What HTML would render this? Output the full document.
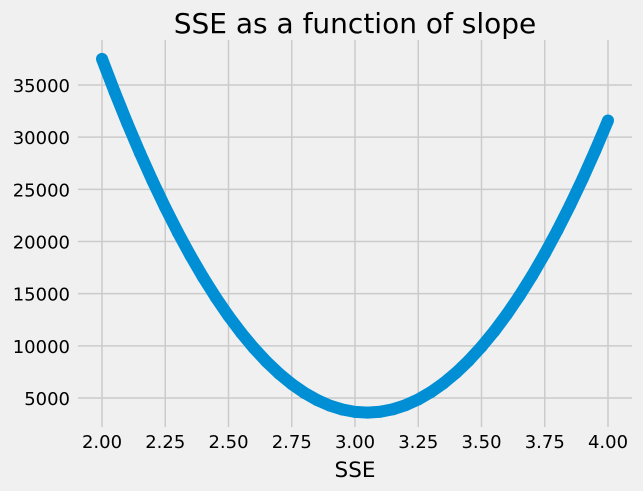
<!DOCTYPE html>
<html><head><meta charset="utf-8"><style>
html,body{margin:0;padding:0;background:#f0f0f0;}
svg{display:block;font-family:"DejaVu Sans","Liberation Sans",sans-serif;}
</style></head><body>
<svg id="chart" width="643" height="491" viewBox="0 0 643 491">
<rect x="0" y="0" width="643" height="491" fill="#f0f0f0"/>
<g id="grid"></g><g id="series"></g><g id="ticks"></g>
<text x="355" y="33" text-anchor="middle" font-size="28" fill="#000">SSE as a function of slope</text>
<text x="355" y="477" text-anchor="middle" font-size="21.5" fill="#000">SSE</text>
</svg>
<script>
const slopes=[2.00,2.05,2.10,2.15,2.20,2.25,2.30,2.35,2.40,2.45,2.50,2.55,2.60,2.65,2.70,2.75,2.80,2.85,2.90,2.95,3.00,3.05,3.10,3.15,3.20,3.25,3.30,3.35,3.40,3.45,3.50,3.55,3.60,3.65,3.70,3.75,3.80,3.85,3.90,3.95,4.00];
const sseValues=[37500,34341,31337,28488,25794,23253,20867,18635,16557,14634,12866,11252,9792,8486,7335,6338,5496,4808,4275,3895,3671,3600,3684,3922,4315,4862,5564,6420,7430,8595,9914,11387,13015,14797,16734,18825,21071,23470,26024,28733,31596];
const xTicks=[2.00,2.25,2.50,2.75,3.00,3.25,3.50,3.75,4.00];
const yTicks=[5000,10000,15000,20000,25000,30000,35000];
const NS="http://www.w3.org/2000/svg";
const L=78,R=632,T=40,B=427;
function xs(v){return 102+(v-2)*(608-102)/2;}
function ys(v){return 398-(v-5000)*(398-85)/30000;}
const grid=document.getElementById('grid'),ticks=document.getElementById('ticks'),ser=document.getElementById('series');
xTicks.forEach(t=>{
 const l=document.createElementNS(NS,'line');
 l.setAttribute('x1',xs(t));l.setAttribute('x2',xs(t));l.setAttribute('y1',T);l.setAttribute('y2',B);
 l.setAttribute('stroke','#cbcbcb');l.setAttribute('stroke-width','1.5');
 
 
 grid.appendChild(l);
 const tx=document.createElementNS(NS,'text');
 tx.setAttribute('x',xs(t));tx.setAttribute('y',448);tx.setAttribute('text-anchor','middle');tx.setAttribute('font-size','18');
 tx.textContent=t.toFixed(2);
 
 
 ticks.appendChild(tx);
});
yTicks.forEach(t=>{
 const l=document.createElementNS(NS,'line');
 l.setAttribute('x1',L);l.setAttribute('x2',R);l.setAttribute('y1',ys(t));l.setAttribute('y2',ys(t));
 l.setAttribute('stroke','#cbcbcb');l.setAttribute('stroke-width','1.5');
 
 
 grid.appendChild(l);
 const tx=document.createElementNS(NS,'text');
 tx.setAttribute('x',70);tx.setAttribute('y',ys(t)+7);tx.setAttribute('text-anchor','end');tx.setAttribute('font-size','18');
 tx.textContent=t;
 
 
 ticks.appendChild(tx);
});
const pl=document.createElementNS(NS,'polyline');
pl.setAttribute('points',slopes.map((s,i)=>xs(s)+','+ys(sseValues[i])).join(' '));
pl.setAttribute('fill','none');pl.setAttribute('stroke','#008fd5');pl.setAttribute('stroke-width','12');pl.setAttribute('stroke-linejoin','round');


ser.appendChild(pl);
slopes.forEach((s,i)=>{
 const c=document.createElementNS(NS,'circle');
 c.setAttribute('cx',xs(s));c.setAttribute('cy',ys(sseValues[i]));c.setAttribute('r',6);c.setAttribute('fill','#008fd5');
 
 
 ser.appendChild(c);
});
</script>
</body></html>
